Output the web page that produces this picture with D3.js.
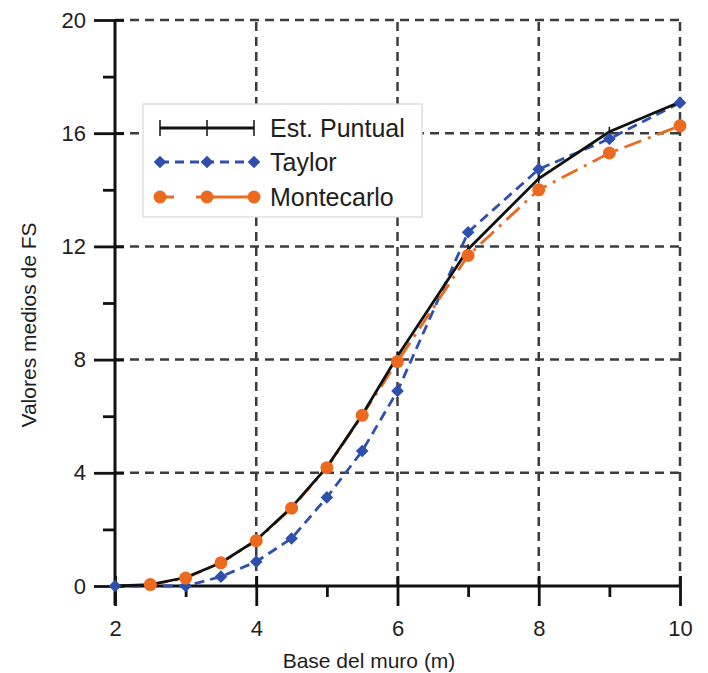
<!DOCTYPE html>
<html>
<head>
<meta charset="utf-8">
<script src="https://cdn.jsdelivr.net/npm/d3@7"></script>
<style>
html,body{margin:0;padding:0;background:#fff;}
svg{display:block;font-family:"Liberation Sans",Arial,sans-serif;}
</style>
</head>
<body>
<svg id="chart" width="708" height="673"></svg>
<script>
// Data
const xEst = [2, 2.5, 3, 3.5, 4, 4.5, 5, 5.5, 6, 7, 8, 9, 10];
const yEst = [0, 0.05, 0.3, 0.82, 1.62, 2.78, 4.2, 6.05, 8.12, 11.9, 14.4, 16.05, 17.1];
const xTaylor = [2, 3, 3.5, 4, 4.5, 5, 5.5, 6, 7, 8, 9, 10];
const yTaylor = [0, 0, 0.33, 0.86, 1.68, 3.13, 4.77, 6.89, 12.5, 14.73, 15.8, 17.08];
const xMonte = [2.5, 3, 3.5, 4, 4.5, 5, 5.5, 6, 7, 8, 9, 10];
const yMonte = [0.05, 0.28, 0.82, 1.6, 2.75, 4.18, 6.03, 7.93, 11.68, 14.0, 15.3, 16.26];
const xTicks = [2, 4, 6, 8, 10];
const xMinor = [3, 5, 7, 9];
const yTicks = [0, 4, 8, 12, 16, 20];
const yMinor = [2, 6, 10, 14, 18];
const seriesNames = ["Est. Puntual", "Taylor", "Montecarlo"];
const xLabel = "Base del muro (m)";
const yLabel = "Valores medios de FS";

const svg = d3.select("#chart");
const x = d3.scaleLinear().domain([2, 10]).range([115, 680]);
const y = d3.scaleLinear().domain([0, 20]).range([586, 20]);

const blue = "#2f4fae", orange = "#eb6a1f", gridC = "#3c3c3c", txt = "#1e1e1e";

// grid
const grid = svg.append("g");
grid.selectAll("line.gx").data(xTicks.slice(1)).join("line")
  .attr("x1", d => x(d)).attr("x2", d => x(d)).attr("y1", y(0)).attr("y2", y(20))
  .attr("stroke", gridC).attr("stroke-width", 2.5).attr("stroke-dasharray", "9,6");
grid.selectAll("line.gy").data(yTicks.slice(1)).join("line")
  .attr("y1", d => y(d)).attr("y2", d => y(d)).attr("x1", x(2)).attr("x2", x(10))
  .attr("stroke", gridC).attr("stroke-width", 2.5).attr("stroke-dasharray", "9,6");

// axes
const ax = svg.append("g");
const xAxis = d3.axisBottom(x).tickValues(xTicks).tickSize(20).tickPadding(14).tickFormat(d3.format("d"));
const xg = ax.append("g").attr("transform", `translate(0,${y(0)})`).call(xAxis);
xg.select(".domain").remove();
xg.selectAll(".tick line").attr("y1", -10).attr("stroke", "#111").attr("stroke-width", 2.8);
xg.selectAll(".tick text").attr("font-size", 22).attr("fill", txt).attr("font-family", "Liberation Sans, Arial, sans-serif");
const xm = d3.axisBottom(x).tickValues(xMinor).tickSize(11).tickFormat("");
const xmg = ax.append("g").attr("transform", `translate(0,${y(0)})`).call(xm);
xmg.select(".domain").remove();
xmg.selectAll(".tick line").attr("stroke", "#111").attr("stroke-width", 2.8);

const yAxis = d3.axisLeft(y).tickValues(yTicks).tickSize(21).tickPadding(8).tickFormat(d3.format("d"));
const yg = ax.append("g").attr("transform", `translate(${x(2)},0)`).call(yAxis);
yg.select(".domain").remove();
yg.selectAll(".tick line").attr("x1", 9).attr("stroke", "#111").attr("stroke-width", 2.8);
yg.selectAll(".tick text").attr("font-size", 22).attr("fill", txt).attr("font-family", "Liberation Sans, Arial, sans-serif");
const ym = d3.axisLeft(y).tickValues(yMinor).tickSize(12).tickFormat("");
const ymg = ax.append("g").attr("transform", `translate(${x(2)},0)`).call(ym);
ymg.select(".domain").remove();
ymg.selectAll(".tick line").attr("stroke", "#111").attr("stroke-width", 2.8);

// axis lines
ax.append("line").attr("x1", x(2)).attr("x2", x(10)).attr("y1", y(0)).attr("y2", y(0)).attr("stroke", "#111").attr("stroke-width", 3);
ax.append("line").attr("x1", x(2)).attr("x2", x(2)).attr("y1", y(0) + 19).attr("y2", y(20)).attr("stroke", "#111").attr("stroke-width", 3);

// axis titles
svg.append("text").attr("x", 369).attr("y", 668).attr("text-anchor", "middle")
  .attr("font-size", 21).attr("fill", txt).text(xLabel);
svg.append("text").attr("transform", "translate(36,325) rotate(-90)").attr("text-anchor", "middle")
  .attr("font-size", 21).attr("fill", txt).text(yLabel);

// series
const line = d3.line().x(d => x(d[0])).y(d => y(d[1]));
const est = xEst.map((v, i) => [v, yEst[i]]);
const tay = xTaylor.map((v, i) => [v, yTaylor[i]]);
const mon = xMonte.map((v, i) => [v, yMonte[i]]);

svg.append("path").datum(tay).attr("d", line).attr("fill", "none")
  .attr("stroke", blue).attr("stroke-width", 2.8).attr("stroke-dasharray", "10,6");
svg.append("path").datum(mon).attr("d", line).attr("fill", "none")
  .attr("stroke", orange).attr("stroke-width", 2.8).attr("stroke-dasharray", "18,7,3,7");
svg.append("path").datum(est).attr("d", line).attr("fill", "none")
  .attr("stroke", "#111").attr("stroke-width", 2.8);

svg.append("g").selectAll("line").data(est).join("line")
  .attr("x1", d => x(d[0])).attr("x2", d => x(d[0])).attr("y1", d => y(d[1]) - 5).attr("y2", d => y(d[1]) + 5)
  .attr("stroke", "#111").attr("stroke-width", 1.5);
const diamond = d3.symbol().type(d3.symbolSquare).size(80);
svg.append("g").selectAll("path").data(tay).join("path")
  .attr("transform", d => `translate(${x(d[0])},${y(d[1])}) rotate(45)`).attr("d", diamond).attr("fill", blue);
svg.append("g").selectAll("circle").data(mon).join("circle")
  .attr("cx", d => x(d[0])).attr("cy", d => y(d[1])).attr("r", 6.5).attr("fill", orange);

// legend
const lg = svg.append("g");
lg.append("rect").attr("x", 143).attr("y", 104).attr("width", 279).attr("height", 113)
  .attr("fill", "#fff").attr("stroke", "#d8d8d8").attr("stroke-width", 1.2);
const rows = [128, 162, 197];
const lx1 = 160, lx2 = 254, lxm = 207;
// Est. Puntual
lg.append("line").attr("x1", lx1).attr("x2", lx2).attr("y1", rows[0]).attr("y2", rows[0]).attr("stroke", "#111").attr("stroke-width", 2.8);
[lx1, lxm, lx2].forEach(px => lg.append("line").attr("x1", px).attr("x2", px).attr("y1", rows[0] - 8).attr("y2", rows[0] + 8).attr("stroke", "#111").attr("stroke-width", 1.5));
// Taylor
lg.append("line").attr("x1", lx1).attr("x2", lx2).attr("y1", rows[1]).attr("y2", rows[1]).attr("stroke", blue).attr("stroke-width", 2.8).attr("stroke-dasharray", "9,6");
[lx1, lxm, lx2].forEach(px => lg.append("path").attr("transform", `translate(${px},${rows[1]}) rotate(45)`).attr("d", diamond).attr("fill", blue));
// Montecarlo
lg.append("line").attr("x1", lx1).attr("x2", lx2).attr("y1", rows[2]).attr("y2", rows[2]).attr("stroke", orange).attr("stroke-width", 2.8).attr("stroke-dasharray", "14,22,60");
[lx1, lxm, lx2].forEach(px => lg.append("circle").attr("cx", px).attr("cy", rows[2]).attr("r", 6.5).attr("fill", orange));
seriesNames.forEach((n, i) => lg.append("text").attr("x", 270).attr("y", rows[i] + 9).attr("font-size", 25).attr("fill", txt).text(n));
</script>
</body>
</html>
